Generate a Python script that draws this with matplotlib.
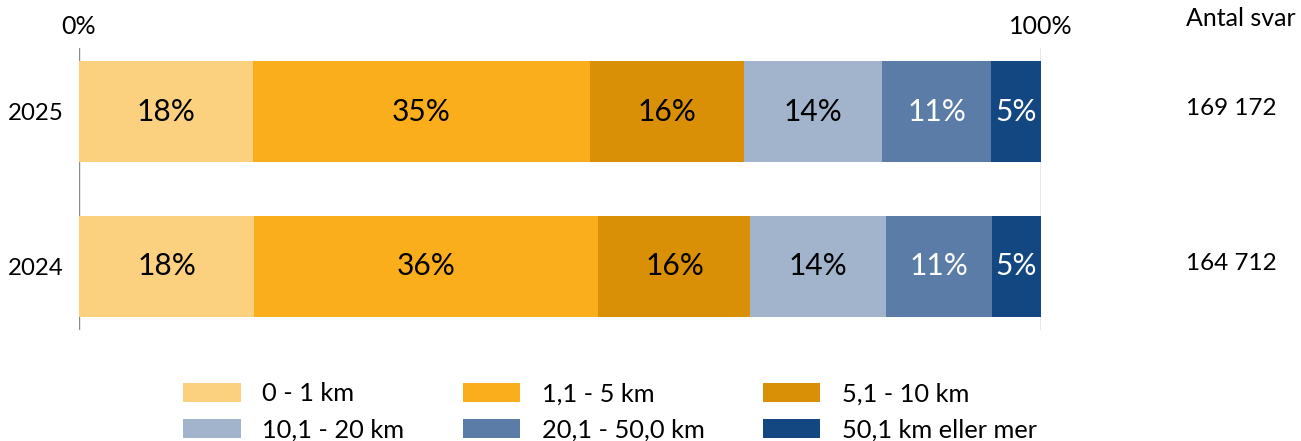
import matplotlib
matplotlib.use("Agg")
import matplotlib.pyplot as plt
import numpy as np

plt.rcParams['font.family'] = ['Lato', 'DejaVu Sans']

years = ["2025", "2024"]
categories = ["0 - 1 km", "1,1 - 5 km", "5,1 - 10 km", "10,1 - 20 km",
              "20,1 - 50,0 km", "50,1 km eller mer"]
values_2025 = [18.1, 35.0, 16.0, 14.4, 11.3, 5.2]
values_2024 = [18.2, 35.8, 15.8, 14.1, 11.0, 5.1]
labels_2025 = ["18%", "35%", "16%", "14%", "11%", "5%"]
labels_2024 = ["18%", "36%", "16%", "14%", "11%", "5%"]
counts = ["169 172", "164 712"]
count_header = "Antal svar"
xtick_labels = ["0%", "100%"]

colors = ["#FBD17F", "#FBAE1B", "#D99006", "#A1B4CB", "#5A7CA6", "#134781"]
text_colors = ["black", "black", "black", "black", "white", "white"]

W, H = 1301, 441
fig = plt.figure(figsize=(W / 100, H / 100), dpi=100)
ax = fig.add_axes([79 / W, (H - 330) / H, 962 / W, 282 / H])

series = [values_2025, values_2024]
labels = [labels_2025, labels_2024]
ypos = [1, 0]
bar_h = 101 / 155

for yi, vals, labs in zip(ypos, series, labels):
    left = 0.0
    for j, (v, lab) in enumerate(zip(vals, labs)):
        ax.barh(yi, v, left=left, height=bar_h, color=colors[j],
                label=categories[j] if yi == 1 else None, zorder=2)
        ax.text(left + v / 2, yi, lab, ha="center", va="center",
                fontsize=21.5, color=text_colors[j], zorder=3)
        left += v

ax.set_xlim(0, 100)
ax.set_ylim(-0.4097, 1.4097)
ax.set_yticks(ypos)
ax.set_yticklabels(years, fontsize=17.3)
ax.tick_params(axis="y", length=0, pad=11)
ax.xaxis.tick_top()
ax.set_xticks([0, 100])
ax.set_xticklabels(xtick_labels, fontsize=18)
ax.tick_params(axis="x", length=0, pad=7)
for s in ax.spines.values():
    s.set_visible(False)
ax.grid(axis="x", color="#8C8C8C", linewidth=1.0, zorder=1)
ax.set_axisbelow(True)

# Antal svar column
fig.text(1186 / W, 1 - 19 / H, count_header, fontsize=18, ha="left", va="center")
for yi, c in zip(ypos, counts):
    yfig = ax.transData.transform((0, yi))
    yf = fig.transFigure.inverted().transform(yfig)[1]
    fig.text(1186 / W, yf + 3 / H, c, fontsize=17.5, ha="left", va="center")

handles, leg_labels = ax.get_legend_handles_labels()
order = [0, 3, 1, 4, 2, 5]
leg = fig.legend([handles[i] for i in order], [leg_labels[i] for i in order],
                 ncol=3, loc="center",
                 bbox_to_anchor=(610 / W, 1 - 412 / H), frameon=False,
                 fontsize=18.3, handlelength=2.25, handleheight=0.8,
                 handletextpad=0.85, columnspacing=2.3, labelspacing=0.52,
                 borderpad=0)

fig.savefig("out.png", dpi=100)
